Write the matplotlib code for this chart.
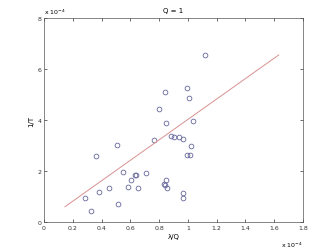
import matplotlib
matplotlib.use("Agg")
import matplotlib.pyplot as plt
from matplotlib.ticker import FuncFormatter

# values in units of 1e-4
lam_q = [1.119, 0.841, 0.996, 1.008, 0.797, 0.845, 1.038, 0.762, 0.885, 0.905,
         0.935, 0.966, 0.505, 1.019, 0.364, 0.991, 1.012, 0.547, 0.632, 0.642,
         0.709, 0.605, 0.845, 0.832, 0.838, 0.857, 0.586, 0.651, 0.452, 0.384,
         0.968, 0.964, 0.285, 0.514, 0.324]
inv_t = [6.55, 5.09, 5.25, 4.88, 4.44, 3.89, 3.95, 3.23, 3.37, 3.32,
         3.32, 3.27, 3.02, 2.98, 2.59, 2.64, 2.64, 1.97, 1.86, 1.86,
         1.94, 1.63, 1.65, 1.49, 1.44, 1.32, 1.39, 1.33, 1.32, 1.18,
         1.14, 0.93, 0.95, 0.72, 0.42]

fit_x = [0.146, 1.631]
fit_y = [0.60, 6.55]

fig = plt.figure(figsize=(3.35, 2.51), dpi=100)
ax = fig.add_axes([44/335, 1 - 223/251, 259/335, 204/251])

ax.plot(lam_q, inv_t, 'o', markerfacecolor='none', markeredgecolor='#66669c',
        markersize=3.4, markeredgewidth=0.6)
ax.plot(fit_x, fit_y, color='#d89090', linewidth=0.7)

ax.set_xlim(0, 1.8)
ax.set_ylim(0, 8)
ax.set_xticks([0, 0.2, 0.4, 0.6, 0.8, 1, 1.2, 1.4, 1.6, 1.8])
ax.set_yticks([0, 2, 4, 6, 8])
fmt = FuncFormatter(lambda v, p: ('%g' % round(v, 2)))
ax.xaxis.set_major_formatter(fmt)
ax.yaxis.set_major_formatter(fmt)
ax.tick_params(direction='in', length=2.5, width=0.5, labelsize=4.5, pad=2,
               top=True, right=True, colors='#333333')
for s in ax.spines.values():
    s.set_linewidth(0.5)
    s.set_color('#555555')

ax.set_title('Q = 1', fontsize=5, pad=4)
ax.set_xlabel('λ/Q', fontsize=5, labelpad=2)
ax.set_ylabel('1/T', fontsize=5, labelpad=2)
ax.text(0, 1.01, r'x 10$^{-4}$', transform=ax.transAxes, fontsize=4.5,
        ha='left', va='bottom')
ax.text(1, -0.085, r'x 10$^{-4}$', transform=ax.transAxes, fontsize=4.5,
        ha='right', va='top')

plt.savefig('out.png', dpi=100)
